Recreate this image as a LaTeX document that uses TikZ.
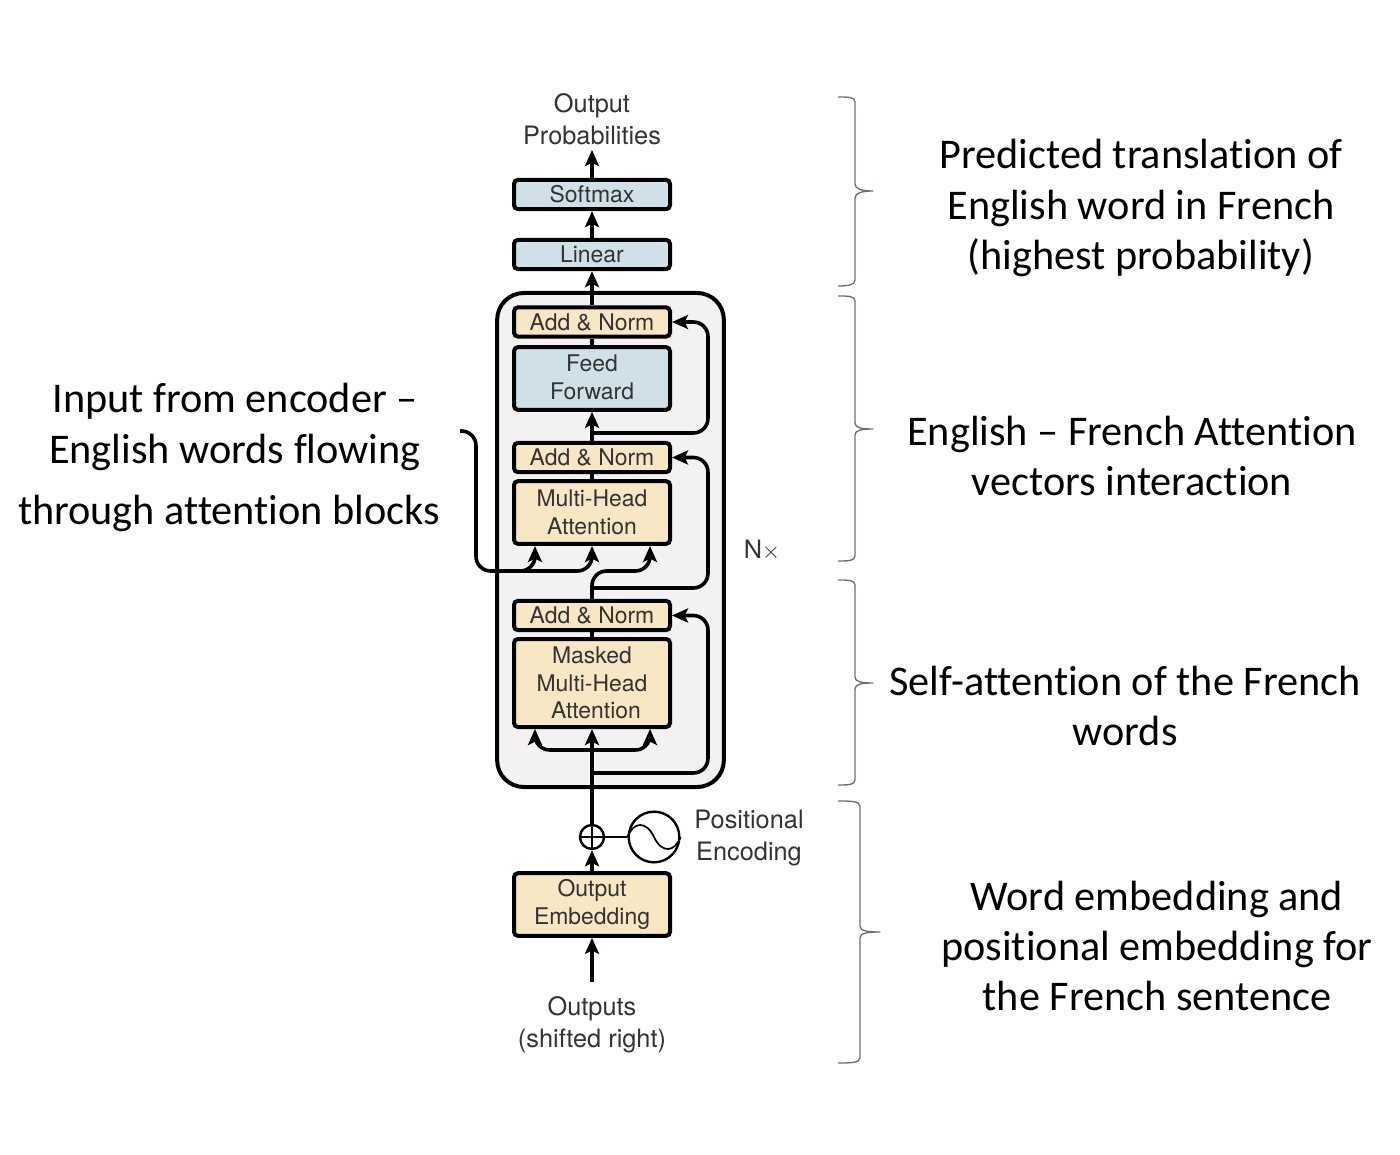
\documentclass[tikz,border=0pt]{standalone}
\usepackage{fontspec}
\setmainfont{Carlito}[RawFeature={-liga;-clig}]
\newfontfamily\heros{TeX Gyre Heros}
\usetikzlibrary{arrows.meta}
\definecolor{cream}{HTML}{F8E7C5}
\definecolor{paleblue}{HTML}{CFE0E8}
\definecolor{panel}{HTML}{F3F1F2}
\definecolor{ink}{HTML}{333333}
\definecolor{bracegray}{HTML}{66717A}
\tikzset{
  x=0.75pt,y=-0.75pt,
  blockbase/.style={draw=black,line width=3pt,rounded corners=3pt,minimum width=117pt,inner sep=0pt,align=center,text=ink,
    font=\heros\fontsize{17.2}{21}\selectfont},
  creambox/.style={blockbase,fill=cream},
  bluebox/.style={blockbase,fill=paleblue},
  label/.style={align=center,text=ink,inner sep=0pt,font=\heros\fontsize{19}{24}\selectfont},
  note/.style={align=center,text=black,inner sep=0pt,font=\fontsize{31.7}{37.7}\selectfont},
  wire/.style={draw=black,line width=2.7pt,rounded corners=11pt},
  flow/.style={wire,-{Stealth[length=12pt,width=10.5pt,inset=2.5pt]}},
  brace/.style={draw=bracegray,line width=1pt,line join=round},
}
\begin{document}
\begin{tikzpicture}
\useasboundingbox (0,0) rectangle (1400,1155);
\fill[white] (0,0) rectangle (1400,1155);
% panel
\node[draw=black,fill=panel,line width=3pt,rounded corners=20pt,minimum width=170pt,minimum height=370.5pt,inner sep=0pt] (panelbox) at (610.5,540) {};
% coordinates
\coordinate (outtop) at (592,150);
\coordinate (skipa) at (592,433);
\coordinate (skipb) at (592,588);
\coordinate (skipc) at (592,773);
\coordinate (inbot) at (592,982);
\coordinate (encstart) at (460,431);
\coordinate (mhal) at (535,546);
\coordinate (mham) at (592,546);
\coordinate (mhar) at (650,546);
\coordinate (mskl) at (535,729);
\coordinate (mskm) at (592,729);
\coordinate (mskr) at (650,729);
\coordinate (mskjoin) at (592,750);
% blocks
\node[bluebox,minimum height=22pt] (softmax) at (592,194.5) {Softmax};
\node[bluebox,minimum height=22pt] (linear) at (592,254.5) {Linear};
\node[creambox,minimum height=22pt] (an1) at (592,322) {Add \& Norm};
\node[bluebox,minimum height=47pt,font=\heros\fontsize{17.2}{20.5}\selectfont] (ff) at (592,378.5) {\raisebox{2pt}{Feed}\\\raisebox{2pt}{Forward}};
\node[creambox,minimum height=22pt] (an2) at (592,457.5) {Add \& Norm};
\node[creambox,minimum height=47pt,font=\heros\fontsize{17.2}{21}\selectfont] (mha) at (592,512.5) {Multi-Head\\Attention};
\node[creambox,minimum height=22pt] (an3) at (592,615.5) {Add \& Norm};
\node[creambox,minimum height=66pt,font=\heros\fontsize{17.2}{20.5}\selectfont] (msk) at (592,683) {Masked\\Multi-Head\\\hspace*{6pt}Attention};
\node[creambox,minimum height=47pt,font=\heros\fontsize{17.2}{21}\selectfont] (emb) at (592,904.5) {Output\\Embedding};
\node[draw=black,fill=white,line width=1.8pt,circle,minimum size=18pt,inner sep=0pt] (plus) at (592,837) {};
\node[draw=black,fill=white,line width=1.8pt,circle,minimum size=38pt,inner sep=0pt] (sine) at (654,837) {};
% connectors
\draw[flow] (softmax.north) -- (outtop);
\draw[flow] (linear.north) -- (softmax.south);
\draw[flow] (an1.north) -- (linear.south);
\draw[wire] (ff.north) -- (an1.south);
\draw[flow] (an2.north) -- (ff.south);
\draw[wire] (mha.north) -- (an2.south);
\draw[wire] (msk.north) -- (an3.south);
\draw[flow] (plus.north) -- (mskm);
\draw[flow] (inbot) -- (emb.south);
\draw[flow] (emb.north) -- (plus.south);
\draw[flow] (skipa) -- (708,433) -- (708,322) -- (an1.east);
\draw[flow] (skipb) -- (708,588) -- (708,457.5) -- (an2.east);
\draw[flow] (skipc) -- (708,773) -- (708,615.5) -- (an3.east);
\draw[wire] (an3.north) -- (skipb);
\draw[flow] (skipb) -- (592,571) -- (650,571) -- (mhar);
\draw[flow] (encstart) -- (476,431) -- (476,571) -- (592,571) -- (mham);
\draw[flow] (505,571) -- (535,571) -- (mhal);
\draw[flow] (mskjoin) -- (535,750) -- (mskl);
\draw[flow] (mskjoin) -- (650,750) -- (mskr);
\draw[line width=1.8pt] (plus) -- (sine);
\draw[line width=1.8pt] (580,837) -- (604,837) (592,825) -- (592,849);
\draw[line width=1.3pt] (sine.west) .. controls (633,822) and (646,820) .. (654,837) .. controls (662,854) and (675,852) .. (sine.east);
% labels
\node[label] (lblout) at (592,119) {Output\\Probabilities};
\node[label] (lblpos) at (749,838) {Positional\\Encoding};
\node[label] (lblin) at (592,1025) {Outputs\\(shifted right)};
\node[label] (lblnx) at (762,550) {N$\times$};
% braces
\draw[brace] (838,97) .. controls (848,97) and (855,97) .. (855,102) -- (855,184) .. controls (855,189) and (862,191) .. (873,191) .. controls (862,191) and (855,193) .. (855,198) -- (855,280) .. controls (855,285) and (848,286) .. (838,286);
\draw[brace] (838,296) .. controls (848,296) and (855,296) .. (855,301) -- (855,423) .. controls (855,428) and (862,429) .. (873,429) .. controls (862,429) and (855,430) .. (855,435) -- (855,556) .. controls (855,561) and (848,561) .. (838,561);
\draw[brace] (838,580) .. controls (848,580) and (855,580) .. (855,585) -- (855,677) .. controls (855,682) and (862,683) .. (873,683) .. controls (862,683) and (855,684) .. (855,689) -- (855,780) .. controls (855,785) and (848,785) .. (838,785);
\draw[brace] (838,801) .. controls (850,801) and (860,801) .. (860,806) -- (860,926) .. controls (860,931) and (868,932) .. (880,932) .. controls (868,932) and (860,933) .. (860,938) -- (860,1058) .. controls (860,1063) and (850,1063) .. (838,1063);
% notes
\node[note] (n1) at (1141,208) {Predicted translation of\\English word in French\\(highest probability)};
\node[note] (n2) at (1132,456) {English – French Attention\\vectors interaction};
\node[note] (n3) at (1125,706) {Self-attention of the French\\words};
\node[note] (n4) at (1157,946) {Word embedding and\\positional embedding for\\the French sentence};
\node[note] (n5) at (235,427) {Input from encoder –\\English words flowing};
\node[note] (n6) at (229,513) {through attention blocks};
\end{tikzpicture}
\end{document}
